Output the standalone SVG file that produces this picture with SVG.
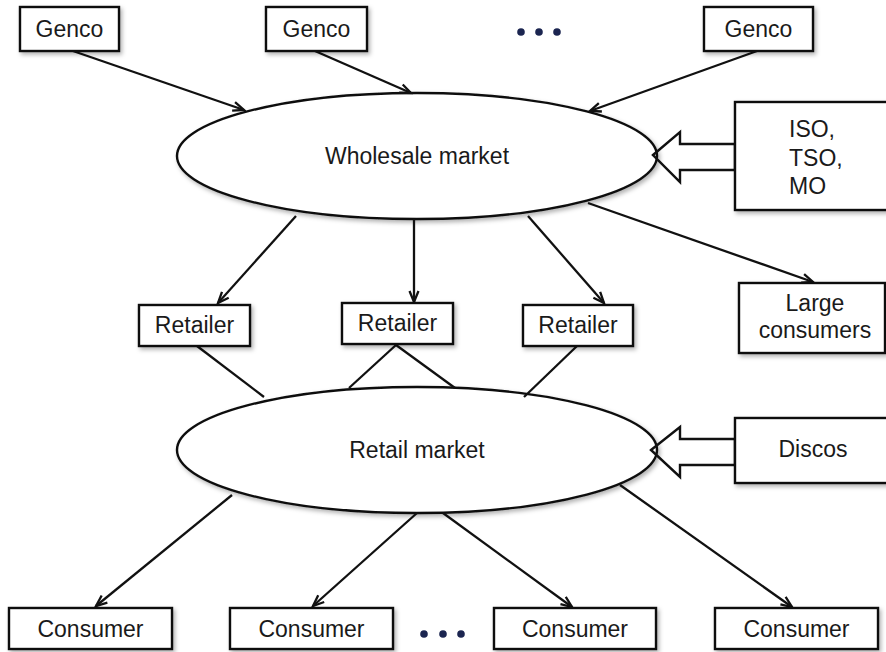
<svg xmlns="http://www.w3.org/2000/svg" width="886" height="652" viewBox="0 0 886 652">
<defs>
<style>
.box{fill:#fff;stroke:#111;stroke-width:2.4;filter:url(#sh)}
.ell{fill:#fff;stroke:#111;stroke-width:2.4;filter:url(#sh)}
.lbl{font-family:"Liberation Sans",Arial,sans-serif;font-size:23px;fill:#1a1a1a;text-anchor:middle}
.lbl-l{font-family:"Liberation Sans",Arial,sans-serif;font-size:23px;fill:#1a1a1a}
.c{stroke:#111;stroke-width:2.3;fill:none}
.a{marker-end:url(#ah)}
.big{fill:none;stroke:#111;stroke-width:2.4;stroke-linejoin:miter}
.dot{fill:#1b2550}
</style>
<filter id="sh" x="-10%" y="-10%" width="130%" height="140%">
<feDropShadow dx="2" dy="2.5" stdDeviation="2" flood-color="#000" flood-opacity="0.3"/>
</filter>
<marker id="ah" markerUnits="userSpaceOnUse" markerWidth="14" markerHeight="12" refX="12" refY="5" orient="auto" viewBox="0 0 14 10">
<path d="M1,0.5 L12,5 L1,9.5" fill="none" stroke="#111" stroke-width="2.3"/>
</marker>
</defs>
<rect width="886" height="652" fill="#fff"/>

<g id="wholesale">
<ellipse class="ell" cx="417" cy="156" rx="240" ry="63"/>
<text class="lbl" x="417" y="164">Wholesale market</text>
</g>
<g id="retail">
<ellipse class="ell" cx="417" cy="450" rx="240" ry="63"/>
<text class="lbl" x="417" y="458">Retail market</text>
</g>

<g id="connectors">
<line class="c a" x1="73" y1="51" x2="244" y2="110"/>
<line class="c a" x1="315" y1="51" x2="411" y2="93"/>
<line class="c a" x1="757" y1="51" x2="590" y2="111"/>
<line class="c a" x1="296" y1="216" x2="218" y2="303"/>
<line class="c a" x1="414" y1="219" x2="414" y2="302"/>
<line class="c a" x1="528" y1="216" x2="604" y2="303"/>
<line class="c a" x1="588" y1="203" x2="813" y2="282"/>
<line class="c" x1="197" y1="346" x2="264" y2="397"/>
<line class="c" x1="396" y1="345" x2="349" y2="388"/>
<line class="c" x1="396" y1="345" x2="455" y2="388"/>
<line class="c" x1="577" y1="346" x2="524" y2="397"/>
<line class="c a" x1="232" y1="495" x2="96" y2="606"/>
<line class="c a" x1="417" y1="513" x2="313" y2="606"/>
<line class="c a" x1="443" y1="513" x2="572" y2="607"/>
<line class="c a" x1="620" y1="485" x2="792" y2="607"/>
<polygon class="big" points="653,155 680,132 680,144 735,144 735,170 680,170 680,182"/>
<polygon class="big" points="651,450 680,427 680,439 735,439 735,465 680,465 680,477"/>
</g>

<g id="genco1"><rect class="box" x="20" y="7" width="99" height="44"/><text class="lbl" x="69.5" y="37">Genco</text></g>
<g id="genco2"><rect class="box" x="266" y="7" width="101" height="44"/><text class="lbl" x="316.5" y="37">Genco</text></g>
<g id="genco3"><rect class="box" x="704" y="7" width="109" height="44"/><text class="lbl" x="758.5" y="37">Genco</text></g>
<g id="dots-top"><circle class="dot" cx="521" cy="32" r="3.8"/><circle class="dot" cx="539" cy="32" r="3.8"/><circle class="dot" cx="557" cy="32" r="3.8"/></g>

<g id="iso"><rect class="box" x="735" y="102" width="153" height="108"/>
<text class="lbl-l" x="789" y="137">ISO,</text>
<text class="lbl-l" x="789" y="166">TSO,</text>
<text class="lbl-l" x="789" y="194">MO</text></g>

<g id="retailer1"><rect class="box" x="139" y="305" width="111" height="41"/><text class="lbl" x="194.5" y="333">Retailer</text></g>
<g id="retailer2"><rect class="box" x="342" y="303" width="111" height="41"/><text class="lbl" x="397.5" y="331">Retailer</text></g>
<g id="retailer3"><rect class="box" x="523" y="305" width="110" height="41"/><text class="lbl" x="578" y="333">Retailer</text></g>

<g id="large"><rect class="box" x="739" y="283" width="146" height="70"/>
<text class="lbl" x="815" y="311">Large</text>
<text class="lbl" x="815" y="338">consumers</text></g>

<g id="discos"><rect class="box" x="735" y="418" width="153" height="65"/><text class="lbl" x="813" y="457">Discos</text></g>

<g id="consumer1"><rect class="box" x="9" y="608" width="163" height="41"/><text class="lbl" x="90.5" y="637">Consumer</text></g>
<g id="consumer2"><rect class="box" x="230" y="608" width="163" height="41"/><text class="lbl" x="311.5" y="637">Consumer</text></g>
<g id="consumer3"><rect class="box" x="494" y="608" width="162" height="41"/><text class="lbl" x="575" y="637">Consumer</text></g>
<g id="consumer4"><rect class="box" x="715" y="608" width="163" height="41"/><text class="lbl" x="796.5" y="637">Consumer</text></g>
<g id="dots-bottom"><circle class="dot" cx="424" cy="634" r="3.8"/><circle class="dot" cx="443" cy="634" r="3.8"/><circle class="dot" cx="461" cy="634" r="3.8"/></g>
</svg>
